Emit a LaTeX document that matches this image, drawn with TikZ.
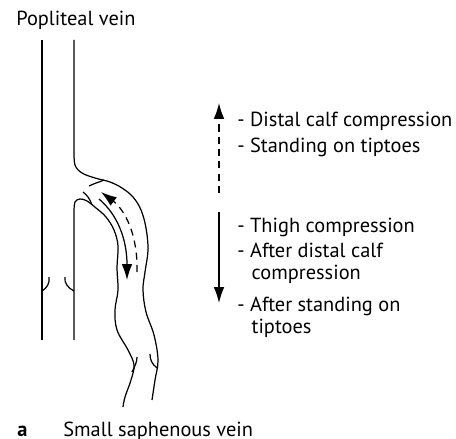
\documentclass[tikz,border=0pt]{standalone}
\usepackage{fontspec}
\setmainfont{PT Sans}
\usetikzlibrary{arrows.meta,positioning}

\begin{document}
\begin{tikzpicture}[x=0.02cm,y=-0.02cm,>={Latex[length=9pt,width=6pt]},
  wall/.style={line width=0.7pt},
  flow/.style={line width=0.7pt,->},
  back/.style={flow,dash pattern=on 4pt off 3pt},
  cond/.style={font=\fontsize{11.6}{12}\selectfont,inner sep=0pt,anchor=base west,align=left}]
  \useasboundingbox (0,0) rectangle (456,439);

  % labels
  \node[cond] (pv)  at (16,26)  {Popliteal vein};
  \node[cond] (lbl) at (17,436) {\textbf{a}};
  \node[cond] (ssv) at (63,436) {Small saphenous vein};

  % popliteal vein
  \draw[wall] (42,40) -- (42,340);
  \draw[wall] (74,40) -- plot[smooth,tension=0.6] coordinates {(74,150) (75,165) (82,173) (95,178)
    (110,182) (122,188) (133,197) (141,210) (146,228) (148,250) (145,272) (143,290)
    (146,312) (154,335) (158,360) (155,380) (152,400)};
  \draw[wall] (74,340) -- plot[smooth,tension=0.6] coordinates {(74,212) (75,202) (80,199) (87,201)
    (96,208) (106,217) (114,230) (118,246) (117,268) (118,290) (115,310) (117,330)
    (128,350) (134,365) (131,380) (125,397) (123,407)};

  % valves
  \draw[wall] (42,291) .. controls (47,288) and (50,283) .. (49,277);
  \draw[wall] (74,291) .. controls (68,288) and (64,283) .. (65,277);
  \draw[wall] (89,186) .. controls (95,183) and (100,182) .. (104,180);
  \draw[wall] (83,192) .. controls (87,195) and (90,199) .. (92,205);
  \draw[wall] (132,372) .. controls (135,366) and (137,362) .. (137,357);
  \draw[wall] (157,368) .. controls (152,364) and (150,360) .. (150,354);

  % flow in the saphenous vein
  \coordinate (in0) at (99,199);
  \coordinate (in1) at (127,280);
  \coordinate (re0) at (137,272);
  \coordinate (re1) at (101,192);
  \draw[flow] (in0) .. controls (118,215) and (127,240) .. (in1);
  \draw[back] (re0) .. controls (138,235) and (125,210) .. (re1);

  % legend arrows
  \coordinate (up0) at (219,193);
  \coordinate (up1) at (219,103);
  \coordinate (dn0) at (219,212);
  \coordinate (dn1) at (219,303);
  \draw[back] (up0) -- (up1);
  \draw[flow] (dn0) -- (dn1);

  \node[cond] (c1) at (237,126) {- Distal calf compression};
  \node[cond] (c2) at (237,153) {- Standing on tiptoes};
  \node[cond] (c3) at (237,232) {- Thigh compression};
  \node[cond] (c4) at (237,279) {- After distal calf\\\hspace{0.7em}compression};
  \node[cond] (c5) at (237,333) {- After standing on\\\hspace{0.7em}tiptoes};
\end{tikzpicture}
\end{document}
